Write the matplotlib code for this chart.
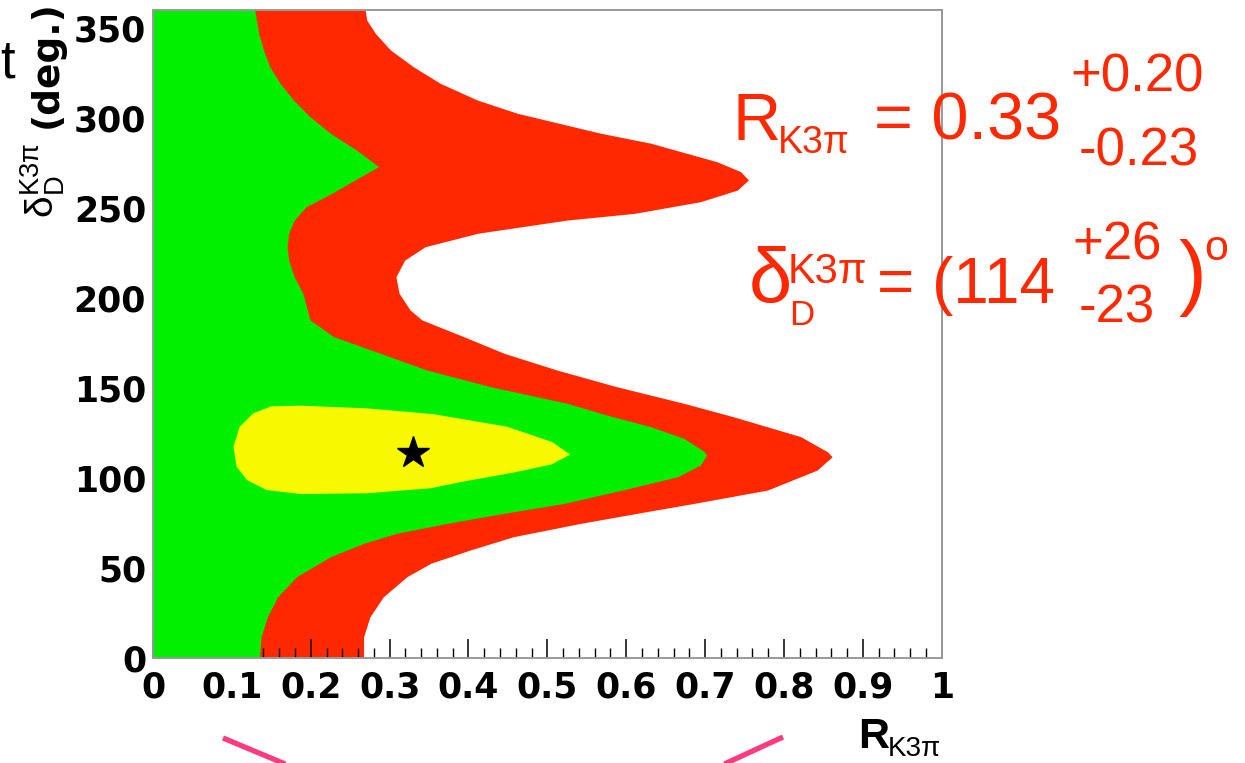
import matplotlib
matplotlib.use("Agg")
import matplotlib.pyplot as plt
from matplotlib.lines import Line2D
from matplotlib.ticker import MultipleLocator

# contour boundaries: right edge of each band vs delta (deg)
green_delta = [0, 11.8, 22.9, 34, 45.2, 56.3, 63.7, 69.3, 74.8, 80.4, 85.9, 93.3,
               100.7, 107.2, 112.8, 115, 122, 128.5, 135, 141.5, 150.7, 160, 169.3,
               178.5, 187.8, 202.6, 211.8, 221, 228.5, 236, 243.3, 250.7, 258, 265.6,
               273, 282.2, 291.5, 300.7, 310, 319.3, 328.5, 337.8, 347, 360]
green_r = [0.135, 0.137, 0.145, 0.158, 0.182, 0.225, 0.267, 0.309, 0.373, 0.445, 0.521, 0.595,
           0.665, 0.694, 0.702, 0.698, 0.673, 0.631, 0.575, 0.525, 0.428, 0.347, 0.288,
           0.229, 0.199, 0.190, 0.179, 0.172, 0.170, 0.172, 0.179, 0.194, 0.226, 0.256,
           0.286, 0.258, 0.225, 0.199, 0.178, 0.161, 0.148, 0.140, 0.134, 0.129]

red_delta = [0, 11.8, 22.9, 34, 45.2, 52.6, 60, 67.4, 74.8, 80.4, 85.9, 93.3, 104.4,
             111.8, 114.6, 123, 134, 141.5, 150.7, 160, 169.3, 178.5, 187.8, 193.3,
             202.6, 211.8, 221, 228.5, 236, 243.3, 247, 253.5, 260, 265.6, 270.2, 275.7,
             286, 291.5, 296, 302.6, 310, 319.3, 328.5, 337.8, 347, 354.4, 360]
red_r = [0.267, 0.267, 0.275, 0.292, 0.322, 0.352, 0.402, 0.457, 0.542, 0.614, 0.686, 0.779, 0.842,
         0.861, 0.855, 0.821, 0.736, 0.673, 0.588, 0.512, 0.445, 0.394, 0.341, 0.326,
         0.312, 0.308, 0.319, 0.345, 0.412, 0.525, 0.610, 0.694, 0.741, 0.755, 0.745, 0.715,
         0.631, 0.568, 0.525, 0.462, 0.411, 0.364, 0.330, 0.301, 0.282, 0.271, 0.269]

# 1 sigma island outline
yellow_r = [0.150, 0.187, 0.271, 0.355, 0.449, 0.506, 0.529, 0.505, 0.457, 0.393, 0.352,
            0.271, 0.187, 0.144, 0.119, 0.106, 0.102, 0.110, 0.127]
yellow_delta = [139.8, 140.2, 138.7, 135.5, 128.5, 120.0, 113.0, 107.5, 103.0, 98.0, 94.3,
                91.5, 91.1, 93.3, 98.9, 106.3, 117.4, 128.5, 135.9]

best_r = [0.33]
best_delta = [114]

x_ticks = [0, 0.1, 0.2, 0.3, 0.4, 0.5, 0.6, 0.7, 0.8, 0.9, 1.0]
x_ticklabels = ["0", "0.1", "0.2", "0.3", "0.4", "0.5", "0.6", "0.7", "0.8", "0.9", "1"]
y_ticks = [0, 50, 100, 150, 200, 250, 300, 350]

RED = "#ff2800"
GREEN = "#00f000"
YELLOW = "#f8f800"
PINK = "#ff3a80"

W, H = 1245, 763


def fx(px):
    return px / W


def fy(py):
    return 1 - py / H


fig = plt.figure(figsize=(W / 100, H / 100), dpi=100)
ax = fig.add_axes([fx(153), fy(658), (941.7 - 153) / W, (658 - 10) / H])

ax.fill_betweenx(red_delta, 0, red_r, color=RED, lw=0, zorder=1)
ax.fill_betweenx(green_delta, 0, green_r, color=GREEN, lw=0, zorder=2)
ax.fill(yellow_r, yellow_delta, color=YELLOW, lw=0, zorder=2.1)
ax.plot(best_r, best_delta, marker="*", color="black", ms=24, ls="none", zorder=3)

ax.set_xlim(0, 1)
ax.set_ylim(0, 360)
ax.set_xticks(x_ticks)
ax.set_xticklabels(x_ticklabels)
ax.set_yticks(y_ticks)
ax.xaxis.set_minor_locator(MultipleLocator(0.02))
ax.tick_params(axis="x", which="major", direction="in", length=14, width=1.1,
               pad=9, labelsize=25)
ax.tick_params(axis="x", which="minor", direction="in", length=7, width=1.0)
ax.tick_params(axis="y", which="both", length=0, pad=5, labelsize=25)
for lab in ax.get_xticklabels() + ax.get_yticklabels():
    lab.set_fontfamily("DejaVu Sans")
    lab.set_fontweight("bold")
for s in ax.spines.values():
    s.set_color("#999999")
    s.set_linewidth(1.4)

# axis titles
fig.text(fx(858), fy(748), "R", fontsize=31, fontweight="bold",
         family="Liberation Sans", va="baseline", ha="left")
fig.text(fx(888), fy(756), "K3\u03c0", fontsize=20, family="Liberation Sans",
         va="baseline", ha="left")
fig.text(fx(47), fy(128), "(deg.)", rotation=90, fontsize=27, fontweight="bold",
         family="DejaVu Sans", ha="center", va="bottom")
fig.text(fx(43), fy(218), r"$\mathregular{\delta_{D}^{K3\pi}}$", rotation=90,
         fontsize=28, family="Liberation Sans", ha="center", va="bottom")

# result labels
red_txt = dict(color=RED, family="Liberation Sans", va="baseline", ha="left")
fig.text(fx(733), fy(140), "R", fontsize=48, **red_txt)
fig.text(fx(778), fy(153), "K3\u03c0", fontsize=27, **red_txt)
fig.text(fx(874), fy(140), "= 0.33", fontsize=48, **red_txt)
fig.text(fx(1070), fy(92), "+0.20", fontsize=38, **red_txt)
fig.text(fx(1079), fy(165), "-0.23", fontsize=38, **red_txt)

fig.text(fx(749), fy(303), "\u03b4", fontsize=56, **red_txt)
fig.text(fx(788), fy(283), "K3\u03c0", fontsize=30, **red_txt)
fig.text(fx(789), fy(325), "D", fontsize=25, **red_txt)
fig.text(fx(877), fy(303), "= (114", fontsize=46, **red_txt)
fig.text(fx(1072), fy(260), "+26", fontsize=38, **red_txt)
fig.text(fx(1079), fy(323), "-23", fontsize=38, **red_txt)
fig.text(fx(1178), fy(300), ")", fontsize=60, **red_txt)
fig.text(fx(1204), fy(260), "o", fontsize=31, **red_txt)

# leftovers from the slide
fig.text(fx(0), fy(77), "t", fontsize=38, family="Liberation Sans",
         va="baseline", ha="left")
pink_a = ([223, 290], [738, 766])
pink_b = ([783, 720], [737, 766])
for xs, ys in (pink_a, pink_b):
    fig.add_artist(Line2D([fx(v) for v in xs], [fy(v) for v in ys],
                          transform=fig.transFigure, color=PINK, lw=3.8,
                          solid_capstyle="butt"))

fig.savefig("out.png", dpi=100)
